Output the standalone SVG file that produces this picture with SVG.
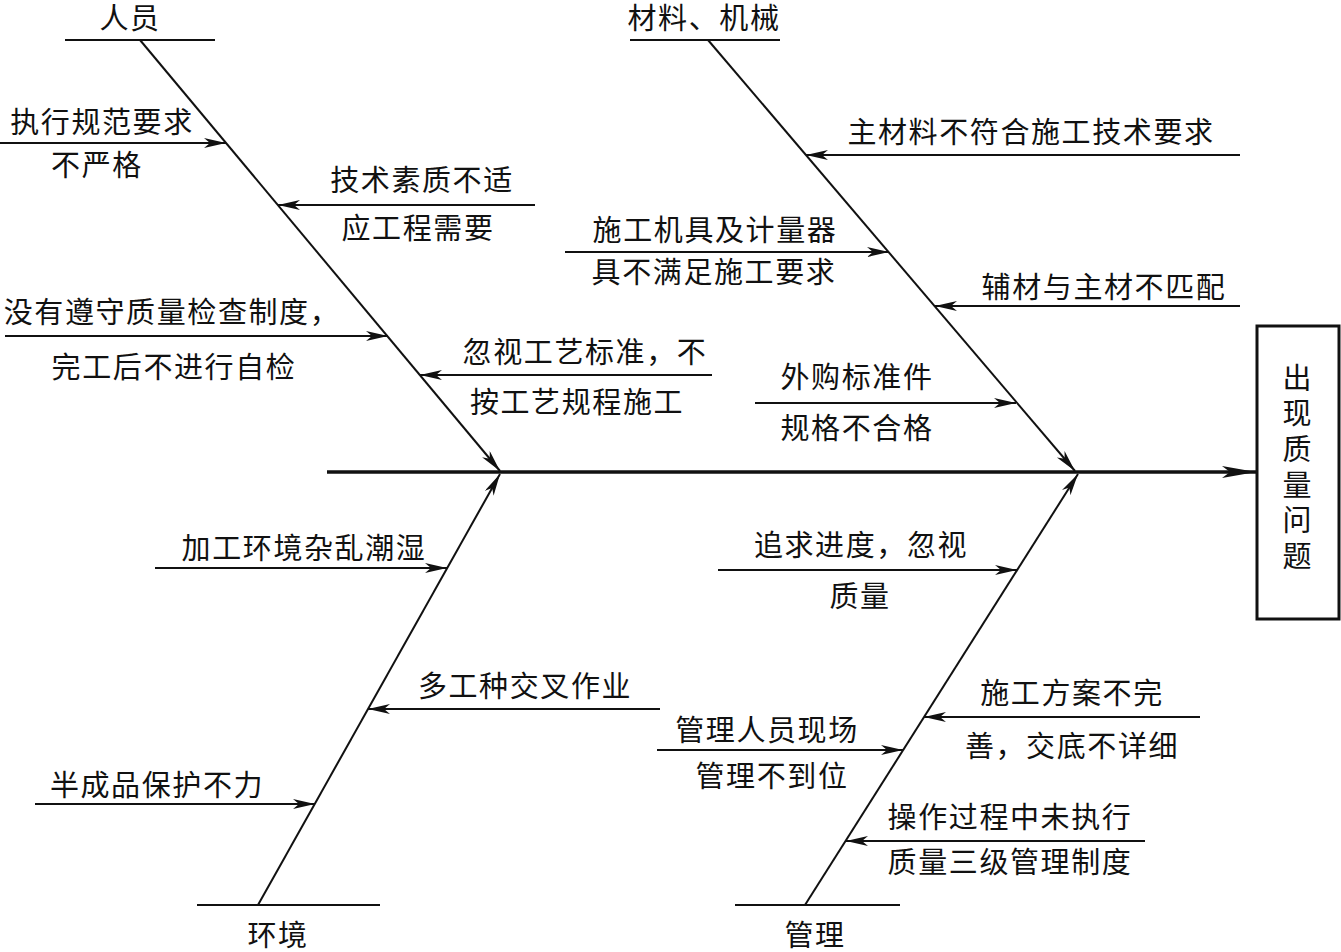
<svg xmlns="http://www.w3.org/2000/svg" width="1341" height="952" viewBox="0 0 1341 952">
<style>
text{font-family:"Noto Sans CJK SC","Noto Sans CJK JP",sans-serif;font-size:29px;fill:#111;text-anchor:middle;letter-spacing:1.6px}
.v{writing-mode:vertical-rl;letter-spacing:6.6px;font-size:29px}
.l{stroke:#111;stroke-width:2;fill:none}
.a{stroke:#111;stroke-width:2;fill:none;marker-end:url(#ah)}
.sp{stroke:#111;stroke-width:3.5;fill:none;marker-end:url(#ahb)}
</style>
<defs>
<marker id="ah" markerUnits="userSpaceOnUse" markerWidth="24" markerHeight="12" refX="22" refY="5" orient="auto">
<path d="M0,0 L22,5 L0,10 L6,5 z" fill="#111"/>
</marker>
<marker id="ahb" markerUnits="userSpaceOnUse" markerWidth="36" markerHeight="14" refX="34" refY="6" orient="auto">
<path d="M0,0 L34,6 L0,12 L8,6 z" fill="#111"/>
</marker>
</defs>
<rect width="1341" height="952" fill="#fff"/>
<g id="connectors">
<line class="sp" x1="327" y1="472" x2="1256" y2="472"/>
<line class="a" x1="140" y1="40" x2="500" y2="471"/>
<line class="a" x1="708" y1="40" x2="1075" y2="471"/>
<line class="a" x1="258" y1="905" x2="500" y2="474"/>
<line class="a" x1="805" y1="905" x2="1078" y2="474"/>
<line class="a" x1="0" y1="143" x2="226" y2="143"/>
<line class="a" x1="535" y1="205" x2="278" y2="205"/>
<line class="a" x1="5" y1="336" x2="388" y2="336"/>
<line class="a" x1="712" y1="375" x2="420" y2="375"/>
<line class="a" x1="1240" y1="155" x2="806" y2="155"/>
<line class="a" x1="565" y1="252" x2="889" y2="252"/>
<line class="a" x1="1240" y1="306" x2="935" y2="306"/>
<line class="a" x1="755" y1="403" x2="1016" y2="403"/>
<line class="a" x1="155" y1="568" x2="447" y2="568"/>
<line class="a" x1="660" y1="709" x2="368" y2="709"/>
<line class="a" x1="35" y1="804" x2="315" y2="804"/>
<line class="a" x1="718" y1="570" x2="1017" y2="570"/>
<line class="a" x1="1200" y1="717" x2="924" y2="717"/>
<line class="a" x1="657" y1="750" x2="903" y2="750"/>
<line class="a" x1="1145" y1="841" x2="846" y2="841"/>
</g>
<g id="people">
<line class="l" x1="65" y1="40" x2="215" y2="40"/>
<text x="130" y="29">人员</text>
<text x="102" y="133">执行规范要求</text>
<text x="97" y="176">不严格</text>
<text x="422" y="191">技术素质不适</text>
<text x="418" y="239">应工程需要</text>
<text x="172" y="323">没有遵守质量检查制度，</text>
<text x="174" y="378">完工后不进行自检</text>
<text x="585" y="363">忽视工艺标准，不</text>
<text x="577" y="413">按工艺规程施工</text>
</g>
<g id="material">
<line class="l" x1="630" y1="40" x2="780" y2="40"/>
<text x="704" y="29">材料、机械</text>
<text x="1031" y="143">主材料不符合施工技术要求</text>
<text x="715" y="241">施工机具及计量器</text>
<text x="714" y="283">具不满足施工要求</text>
<text x="1104" y="298">辅材与主材不匹配</text>
<text x="857" y="388">外购标准件</text>
<text x="857" y="439">规格不合格</text>
</g>
<g id="environment">
<line class="l" x1="197" y1="905" x2="380" y2="905"/>
<text x="278" y="946">环境</text>
<text x="304" y="559">加工环境杂乱潮湿</text>
<text x="525" y="697">多工种交叉作业</text>
<text x="157" y="796">半成品保护不力</text>
</g>
<g id="management">
<line class="l" x1="735" y1="905" x2="900" y2="905"/>
<text x="815" y="946">管理</text>
<text x="861" y="556">追求进度，忽视</text>
<text x="860" y="607">质量</text>
<text x="1072" y="704">施工方案不完</text>
<text x="1072" y="757">善，交底不详细</text>
<text x="767" y="741">管理人员现场</text>
<text x="772" y="787">管理不到位</text>
<text x="1010" y="828">操作过程中未执行</text>
<text x="1010" y="873">质量三级管理制度</text>
</g>
<g id="result">
<rect x="1257" y="326" width="82" height="293" fill="none" stroke="#111" stroke-width="3"/>
<text class="v" x="1297" y="470">出现质量问题</text>
</g>
</svg>
